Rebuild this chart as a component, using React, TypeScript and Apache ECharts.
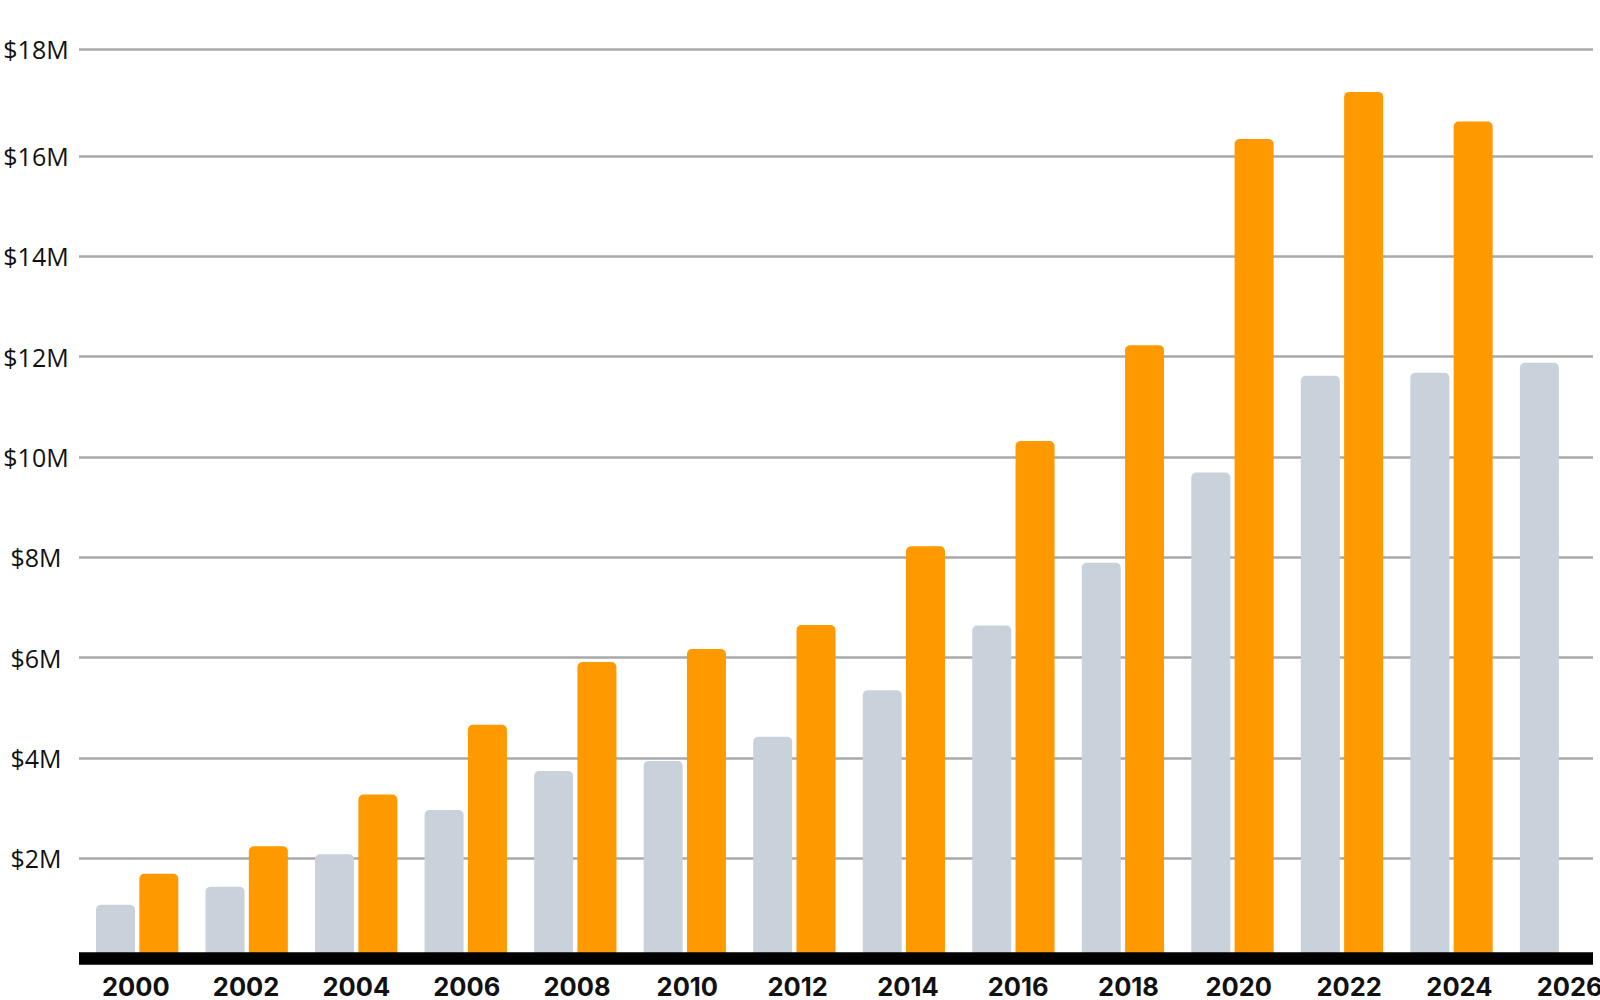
import React, { useEffect, useRef } from "react";
import * as echarts from "echarts";

const years = ["2000", "2002", "2004", "2006", "2008", "2010", "2012", "2014", "2016", "2018", "2020", "2022", "2024", "2026"];
// values in millions of dollars
const grayValues = [1.07, 1.43, 2.08, 2.96, 3.74, 3.94, 4.42, 5.35, 6.64, 7.89, 9.69, 11.62, 11.68, 11.88];
const orangeValues: (number | null)[] = [1.69, 2.24, 3.27, 4.66, 5.91, 6.17, 6.65, 8.22, 10.32, 12.23, 16.34, 17.28, 16.69, null];
const yMin = 0;
const yMax = 18;
const yInterval = 2;
const yInnerMax = 16; // regular gridlines up to $16M; the $18M line sits at the chart's top edge

const CHART_W = 1660;

export default function App() {
  const ref = useRef<HTMLDivElement>(null);
  useEffect(() => {
    if (!ref.current) return;
    const chart = echarts.init(ref.current, undefined, { renderer: "svg" });
    const top = 55.8;
    const bottom = 41.5;
    const pxPerUnit = (1000 - top - bottom) / yMax;
    const innerTop = 1000 - bottom - yInnerMax * pxPerUnit;
    const hiddenY = (gridIndex: number) => ({
      type: "value" as const,
      gridIndex,
      min: yMin,
      max: yMax,
      interval: yInterval,
      show: false,
      splitLine: { show: false },
    });
    const labelStyle = {
      margin: 43,
      align: "center" as const,
      fontFamily: "Open Sans",
      fontSize: 25,
      color: "#111111",
    };
    const gridLineStyle = { color: "#a9a9a9", width: 2.6 };
    chart.setOption({
      animation: false,
      backgroundColor: "#ffffff",
      grid: [
        { left: 79, width: 1514, top: innerTop, bottom },
        { left: 82.4, width: 1533.4, top, bottom },
        { left: 80.65, width: 1544.2, top, bottom },
        { left: 79, width: 1514, top: 49.3, bottom },
      ],
      xAxis: [
        {
          type: "category",
          gridIndex: 0,
          data: years,
          z: 3,
          axisLine: { show: true, lineStyle: { color: "#000000", width: 12.6, cap: "butt" } },
          axisTick: { show: false },
          axisLabel: { show: false },
          splitLine: { show: false },
        },
        { type: "category", gridIndex: 1, data: years, show: false },
        {
          type: "category",
          gridIndex: 2,
          data: years,
          axisLine: { show: false },
          axisTick: { show: false },
          splitLine: { show: false },
          axisLabel: {
            show: true,
            interval: 0,
            margin: 15,
            fontFamily: "Inter",
            fontWeight: "bold",
            fontSize: 25.5,
            lineHeight: 25,
            color: "#111111",
          },
        },
        { type: "category", gridIndex: 3, data: years, show: false },
      ],
      yAxis: [
        {
          type: "value",
          gridIndex: 0,
          min: yMin,
          max: yInnerMax,
          interval: yInterval,
          axisLine: { show: false },
          axisTick: { show: false },
          splitLine: { show: true, lineStyle: gridLineStyle },
          axisLabel: {
            ...labelStyle,
            showMinLabel: false,
            formatter: (v: number) => (v === 0 ? "" : `$${v}M`),
          },
        },
        hiddenY(1),
        hiddenY(2),
        {
          type: "value",
          gridIndex: 3,
          min: yMin,
          max: yMax,
          interval: yMax,
          axisLine: { show: false },
          axisTick: { show: false },
          splitLine: { show: true, showMinLine: false, lineStyle: gridLineStyle },
          axisLabel: {
            ...labelStyle,
            showMinLabel: false,
            formatter: (v: number) => (v === yMax ? `$${v}M` : ""),
          },
        },
      ],
      series: [
        {
          type: "bar",
          name: "Gray",
          xAxisIndex: 1,
          yAxisIndex: 1,
          data: grayValues,
          barWidth: 39,
          barGap: "11%",
          itemStyle: { color: "#c9d1da", borderRadius: [5, 5, 0, 0] },
        },
        {
          type: "bar",
          name: "Orange",
          xAxisIndex: 1,
          yAxisIndex: 1,
          data: orangeValues,
          barWidth: 39,
          barGap: "11%",
          itemStyle: { color: "#ff9900", borderRadius: [5, 5, 0, 0] },
        },
      ],
    });
    return () => chart.dispose();
  }, []);
  return (
    <div
      style={{ position: "fixed", left: 0, top: 0, width: 1600, height: 1000, overflow: "hidden", background: "#fff" }}
    >
      <div ref={ref} style={{ width: CHART_W, height: 1000 }} />
    </div>
  );
}
